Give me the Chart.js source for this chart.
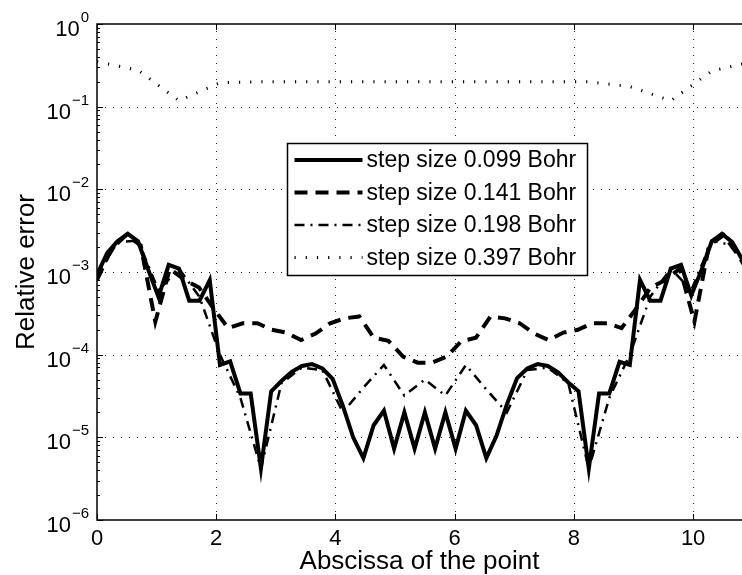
<!DOCTYPE html>
<html>
<head>
<meta charset="utf-8">
<script src="https://cdn.jsdelivr.net/npm/chart.js@4.4.0/dist/chart.umd.min.js"></script>
<style>
  html, body { margin: 0; padding: 0; background: #fff; }
</style>
</head>
<body>
<canvas id="errChart" width="742" height="575"></canvas>
<script>
// step size 0.099 Bohr
const xStep099 = [0, 0.172, 0.344, 0.516, 0.688, 0.859, 1.031, 1.203, 1.375, 1.547, 1.719, 1.891, 2.063, 2.234, 2.406, 2.578,
  2.75, 2.922, 3.094, 3.266, 3.438, 3.609, 3.781, 3.953, 4.125, 4.297, 4.469, 4.641, 4.813, 4.984, 5.156, 5.328,
  5.5, 5.672, 5.844, 6.016, 6.188, 6.359, 6.531, 6.703, 6.875, 7.047, 7.219, 7.391, 7.563, 7.734, 7.906, 8.078,
  8.25, 8.422, 8.594, 8.766, 8.938, 9.109, 9.281, 9.453, 9.625, 9.797, 9.969, 10.141, 10.313, 10.484, 10.656, 10.828, 11];
const yStep099 = [9.3e-4, 1.7e-3, 2.35e-3, 2.9e-3, 2.35e-3, 1.07e-3, 5.0e-4, 1.22e-3, 1.1e-3, 4.5e-4, 4.5e-4, 8.0e-4, 7.5e-5, 8.3e-5, 3.4e-5, 3.4e-5,
  4.2e-6, 3.6e-5, 4.8e-5, 6.2e-5, 7.3e-5, 7.7e-5, 6.8e-5, 5.1e-5, 2.4e-5, 1.0e-5, 5.6e-6, 1.4e-5, 2.1e-5, 7.3e-6, 2.0e-5, 7.3e-6,
  2.0e-5, 7.3e-6, 2.0e-5, 7.3e-6, 2.1e-5, 1.4e-5, 5.6e-6, 1.05e-5, 2.5e-5, 5.2e-5, 6.8e-5, 7.7e-5, 7.3e-5, 6.1e-5, 4.6e-5, 3.6e-5,
  4.2e-6, 3.4e-5, 3.4e-5, 8.2e-5, 7.5e-5, 8.0e-4, 4.5e-4, 4.5e-4, 1.1e-3, 1.22e-3, 5.2e-4, 1.06e-3, 2.35e-3, 2.9e-3, 2.3e-3, 1.4e-3, 9.3e-4];

// step size 0.141 Bohr
const xStep141 = [0, 0.244, 0.489, 0.733, 0.978, 1.222, 1.467, 1.711, 1.956, 2.2, 2.444, 2.689, 2.933, 3.178, 3.422, 3.667,
  3.911, 4.156, 4.4, 4.644, 4.889, 5.133, 5.378, 5.622, 5.867, 6.111, 6.356, 6.6, 6.844, 7.089, 7.333, 7.578,
  7.822, 8.067, 8.311, 8.556, 8.8, 9.044, 9.289, 9.533, 9.778, 10.022, 10.267, 10.511, 10.756, 11];
const yStep141 = [8.0e-4, 1.9e-3, 2.8e-3, 2.1e-3, 2.5e-4, 1.1e-3, 8.0e-4, 6.5e-4, 3.6e-4, 2.1e-4, 2.4e-4, 2.4e-4, 2.0e-4, 1.85e-4, 1.5e-4, 1.8e-4,
  2.4e-4, 2.75e-4, 2.9e-4, 1.6e-4, 1.47e-4, 9.5e-5, 8.0e-5, 8.0e-5, 9.5e-5, 1.45e-4, 1.6e-4, 2.9e-4, 2.75e-4, 2.4e-4, 1.8e-4, 1.5e-4,
  1.85e-4, 2.0e-4, 2.4e-4, 2.4e-4, 2.1e-4, 3.6e-4, 6.5e-4, 8.0e-4, 1.1e-3, 2.5e-4, 2.1e-3, 2.8e-3, 1.6e-3, 8.0e-4];

// step size 0.198 Bohr
const xStep198 = [0, 0.344, 0.688, 1.031, 1.375, 1.719, 2.063, 2.406, 2.75, 3.094, 3.438, 3.781, 4.125, 4.469, 4.813, 5.156,
  5.5, 5.844, 6.188, 6.531, 6.875, 7.219, 7.563, 7.906, 8.25, 8.594, 8.938, 9.281, 9.625, 9.969, 10.313, 10.656, 11];
const yStep198 = [9.0e-4, 2.3e-3, 2.4e-3, 6.0e-4, 1.1e-3, 5.0e-4, 1.0e-4, 3.0e-5, 4.2e-6, 4.5e-5, 7.0e-5, 6.5e-5, 2.0e-5, 4.0e-5, 7.5e-5, 3.2e-5,
  5.0e-5, 3.2e-5, 7.5e-5, 3.8e-5, 2.0e-5, 6.5e-5, 7.0e-5, 4.5e-5, 4.2e-6, 3.0e-5, 1.0e-4, 5.0e-4, 1.1e-3, 6.0e-4, 2.4e-3, 2.1e-3, 9.0e-4];

// step size 0.397 Bohr
const xStep397 = [0, 0.688, 1.375, 2.063, 2.75, 3.438, 4.125, 4.813, 5.5, 6.188, 6.875, 7.563, 8.25, 8.938, 9.625, 10.313, 11];
const yStep397 = [0.35, 0.277, 0.118, 0.195, 0.2, 0.2, 0.2, 0.2, 0.2, 0.2, 0.2, 0.2, 0.2, 0.175, 0.118, 0.27, 0.35];

const seriesNames = ["step size 0.099 Bohr", "step size 0.141 Bohr", "step size 0.198 Bohr", "step size 0.397 Bohr"];

const xTicks = [0, 2, 4, 6, 8, 10];
const xTickLabels = ["0", "2", "4", "6", "8", "10"];
const yTicks = [1, 1e-1, 1e-2, 1e-3, 1e-4, 1e-5, 1e-6];
const yTickExps = ["0", "\u22121", "\u22122", "\u22123", "\u22124", "\u22125", "\u22126"];

const FONT = "'Liberation Sans', Arial, Helvetica, sans-serif";

function toPoints(xs, ys) {
  return xs.map((x, i) => ({ x: x, y: ys[i] }));
}

// grid, axes box, ticks, labels and legend drawn with the chart's own scales
const matlabAxes = {
  id: "matlabAxes",
  beforeDatasetsDraw(chart) {
    const { ctx, chartArea: a, scales: { x, y } } = chart;
    ctx.save();
    ctx.strokeStyle = "#222";
    ctx.lineWidth = 1;
    ctx.setLineDash([1, 7]);
    xTicks.forEach(v => {
      if (v === 0) return;
      const px = Math.round(x.getPixelForValue(v)) + 0.5;
      ctx.beginPath(); ctx.moveTo(px, a.bottom); ctx.lineTo(px, a.top); ctx.stroke();
    });
    yTicks.forEach(v => {
      if (v === 1 || v === 1e-6) return;
      const py = Math.round(y.getPixelForValue(v)) + 0.5;
      ctx.beginPath(); ctx.moveTo(a.left, py); ctx.lineTo(a.right, py); ctx.stroke();
    });
    ctx.restore();
  },
  afterDraw(chart) {
    const { ctx, chartArea: a, scales: { x, y } } = chart;
    ctx.save();
    ctx.strokeStyle = "#000";
    ctx.fillStyle = "#000";
    ctx.setLineDash([]);

    // spines (right side falls outside the picture)
    ctx.lineWidth = 1.5;
    ctx.beginPath();
    ctx.moveTo(a.right + 2, a.top); ctx.lineTo(a.left, a.top);
    ctx.lineTo(a.left, a.bottom); ctx.lineTo(a.right + 2, a.bottom);
    ctx.stroke();

    // inward ticks
    ctx.lineWidth = 1;
    xTicks.forEach(v => {
      const px = Math.round(x.getPixelForValue(v)) + 0.5;
      ctx.beginPath();
      ctx.moveTo(px, a.bottom); ctx.lineTo(px, a.bottom - 6);
      ctx.moveTo(px, a.top); ctx.lineTo(px, a.top + 6);
      ctx.stroke();
    });
    yTicks.forEach((v, i) => {
      const py = Math.round(y.getPixelForValue(v)) + 0.5;
      ctx.beginPath(); ctx.moveTo(a.left, py); ctx.lineTo(a.left + 6, py); ctx.stroke();
      if (i === yTicks.length - 1) return;
      for (let m = 2; m <= 9; m++) {
        const pm = Math.round(y.getPixelForValue(v / 10 * m)) + 0.5;
        ctx.beginPath(); ctx.moveTo(a.left, pm); ctx.lineTo(a.left + 3, pm); ctx.stroke();
      }
    });

    // x tick labels
    ctx.font = "22px " + FONT;
    ctx.textAlign = "center";
    ctx.textBaseline = "alphabetic";
    xTicks.forEach((v, i) => {
      ctx.fillText(xTickLabels[i], x.getPixelForValue(v), a.bottom + 25);
    });

    // y tick labels: 10 with superscript exponent
    yTicks.forEach((v, i) => {
      const py = y.getPixelForValue(v);
      ctx.font = "15px " + FONT;
      const ew = ctx.measureText(yTickExps[i]).width;
      ctx.textAlign = "left";
      ctx.fillText(yTickExps[i], a.left - 8 - ew, py - 2);
      ctx.font = "22px " + FONT;
      const bw = ctx.measureText("10").width;
      ctx.fillText("10", a.left - 9 - ew - bw, py + 12);
    });

    // axis titles
    ctx.font = "26px " + FONT;
    ctx.textAlign = "center";
    ctx.fillText("Abscissa of the point", (a.left + 742) / 2, a.bottom + 49);
    ctx.save();
    ctx.translate(34, (a.top + a.bottom) / 2);
    ctx.rotate(-Math.PI / 2);
    ctx.fillText("Relative error", 0, 0);
    ctx.restore();

    // legend
    const bx = 287.5, by = 143.5, bw = 300, bh = 132;
    ctx.fillStyle = "#fff";
    ctx.fillRect(bx, by, bw, bh);
    ctx.lineWidth = 1.5;
    ctx.strokeRect(bx, by, bw, bh);
    ctx.font = "23px " + FONT;
    ctx.textAlign = "left";
    ctx.textBaseline = "middle";
    chart.data.datasets.forEach((ds, i) => {
      const ry = by + 16.5 + i * 32.5;
      ctx.strokeStyle = "#000";
      ctx.lineWidth = ds.borderWidth;
      ctx.setLineDash(ds.borderDash || []);
      ctx.beginPath(); ctx.moveTo(bx + 7, ry); ctx.lineTo(bx + 75, ry); ctx.stroke();
      ctx.setLineDash([]);
      ctx.fillStyle = "#000";
      ctx.fillText(ds.label, bx + 79, ry + 1);
    });
    ctx.restore();
  }
};

const lineBase = { borderColor: "#000", pointRadius: 0, fill: false, tension: 0, borderCapStyle: "butt" };

new Chart(document.getElementById("errChart"), {
  type: "line",
  data: {
    datasets: [
      Object.assign({ label: seriesNames[0], data: toPoints(xStep099, yStep099), borderWidth: 4, borderDash: [] }, lineBase),
      Object.assign({ label: seriesNames[1], data: toPoints(xStep141, yStep141), borderWidth: 4, borderDash: [13, 8] }, lineBase),
      Object.assign({ label: seriesNames[2], data: toPoints(xStep198, yStep198), borderWidth: 2.5, borderDash: [10, 6, 2, 6] }, lineBase),
      Object.assign({ label: seriesNames[3], data: toPoints(xStep397, yStep397), borderWidth: 3, borderDash: [1.2, 10] }, lineBase)
    ]
  },
  options: {
    responsive: false,
    animation: false,
    devicePixelRatio: 1,
    layout: { padding: { left: 97, right: 0, top: 24, bottom: 55 } },
    plugins: { legend: { display: false }, tooltip: { enabled: false } },
    scales: {
      x: { type: "linear", min: 0, max: 10.82, display: false },
      y: { type: "logarithmic", min: 1e-6, max: 1, display: false }
    }
  },
  plugins: [matlabAxes]
});
</script>
</body>
</html>
